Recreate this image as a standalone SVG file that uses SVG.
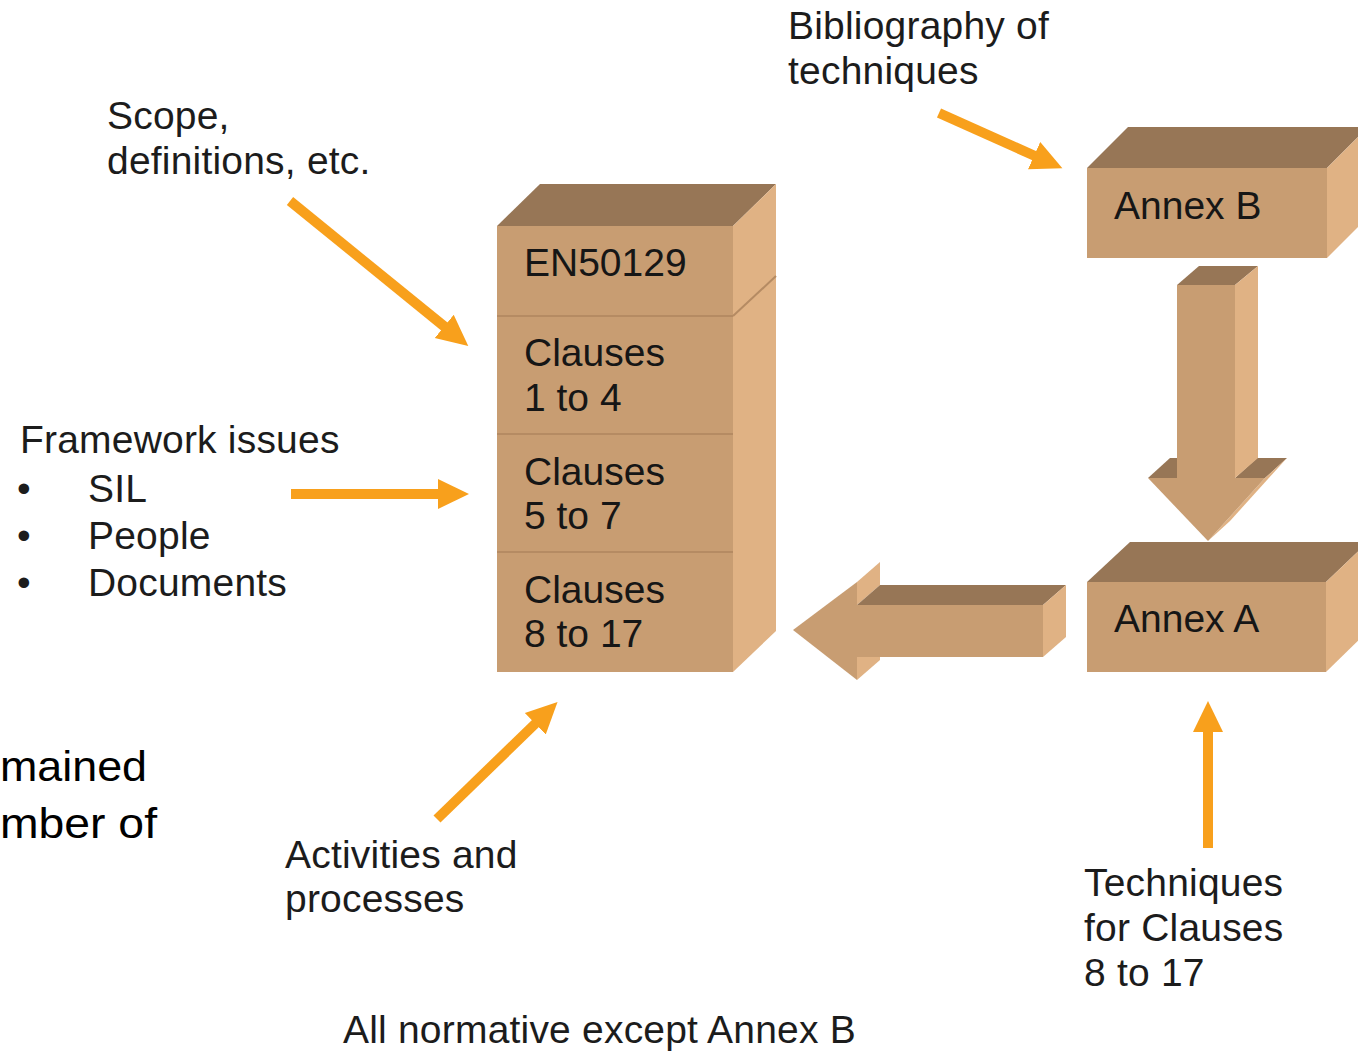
<svg xmlns="http://www.w3.org/2000/svg" width="1358" height="1053" viewBox="0 0 1358 1053">
  <style>
    .front { fill: #C89D72; }
    .top { fill: #977656; }
    .side { fill: #E0B284; }
    .div { stroke: #B58B63; stroke-width: 2; fill: none; }
    .lbl { font-family: "Liberation Sans", Arial, sans-serif; font-size: 39px; letter-spacing: 0.2px; fill: #1c1c1c; }
    .box { font-family: "Liberation Sans", Arial, sans-serif; font-size: 39px; fill: #161616; }
    .side-note { font-family: "Liberation Sans", Arial, sans-serif; font-size: 42px; fill: #000; }
    .ptr { stroke: #F8A01C; stroke-width: 10; fill: none; marker-end: url(#head); }
  </style>
  <defs>
    <marker id="head" markerUnits="userSpaceOnUse" markerWidth="32" markerHeight="32" viewBox="0 0 32 32" refX="1" refY="16" orient="auto">
      <path d="M0,1 L31,16 L0,31 z" fill="#F8A01C"/>
    </marker>
  </defs>
  <rect width="1358" height="1053" fill="#fff"/>

  <!-- EN50129 stack -->
  <g id="stack">
    <polygon class="top" points="497,226 540,184 776,184 733,226"/>
    <polygon class="side" points="733,226 776,184 776,631 733,672"/>
    <rect class="front" x="497" y="226" width="236" height="446"/>
    <line class="div" x1="497" y1="316" x2="733" y2="316"/>
    <line class="div" x1="733" y1="316" x2="776" y2="276"/>
    <line class="div" x1="497" y1="434" x2="733" y2="434"/>
    <line class="div" x1="497" y1="552" x2="733" y2="552"/>
    <text class="box" x="524" y="276">EN50129</text>
    <text class="box" x="524" y="366">Clauses</text>
    <text class="box" x="524" y="411">1 to 4</text>
    <text class="box" x="524" y="485">Clauses</text>
    <text class="box" x="524" y="529">5 to 7</text>
    <text class="box" x="524" y="603">Clauses</text>
    <text class="box" x="524" y="647">8 to 17</text>
  </g>

  <!-- Annex B box -->
  <g id="annex-b">
    <polygon class="top" points="1087,168 1128,127 1368,127 1327,168"/>
    <polygon class="side" points="1327,168 1368,127 1368,217 1327,258"/>
    <rect class="front" x="1087" y="168" width="240" height="90"/>
    <text class="box" x="1114" y="219">Annex B</text>
  </g>

  <!-- Annex A box -->
  <g id="annex-a">
    <polygon class="top" points="1087,582 1130,542 1368,542 1326,582"/>
    <polygon class="side" points="1326,582 1368,542 1368,631 1326,672"/>
    <rect class="front" x="1087" y="582" width="239" height="90"/>
    <text class="box" x="1114" y="632">Annex A</text>
  </g>

  <!-- block arrows and pointers -->
  <g id="connectors">
    <!-- Annex B down to Annex A -->
    <g id="down-block">
      <polygon class="top" points="1148,478 1170,458 1199,458 1177,478"/>
      <polygon class="top" points="1235,478 1257,458 1287,458 1265,478"/>
      <polygon class="side" points="1265,478 1287,458 1230,521 1208,541"/>
      <polygon class="top" points="1177,285 1199,266 1258,266 1235,285"/>
      <polygon class="side" points="1235,285 1258,266 1258,458 1235,478"/>
      <rect class="front" x="1177" y="285" width="58" height="193"/>
      <polygon class="front" points="1148,478 1265,478 1208,541"/>
    </g>
    <!-- Annex A left to stack -->
    <g id="left-block">
      <polygon class="side" points="857,582 880,562 880,585 857,605"/>
      <polygon class="side" points="857,657 880,637 880,660 857,680"/>
      <polygon class="top" points="857,605 880,585 1066,585 1043,605"/>
      <polygon class="side" points="1043,605 1066,585 1066,637 1043,657"/>
      <rect class="front" x="857" y="605" width="186" height="52"/>
      <polygon class="front" points="793,630 857,582 857,680"/>
    </g>
    <line class="ptr" x1="290" y1="201" x2="445" y2="327"/>
    <line class="ptr" x1="291" y1="494" x2="439" y2="494"/>
    <line class="ptr" x1="437" y1="819" x2="536" y2="723"/>
    <line class="ptr" x1="939" y1="113" x2="1035" y2="156"/>
    <line class="ptr" x1="1208" y1="848" x2="1208" y2="731"/>
  </g>

  <!-- labels -->
  <g id="labels">
    <text class="lbl" x="788" y="39">Bibliography of</text>
    <text class="lbl" x="788" y="84">techniques</text>
    <text class="lbl" x="107" y="129">Scope,</text>
    <text class="lbl" x="107" y="174">definitions, etc.</text>
    <text class="lbl" x="20" y="453">Framework issues</text>
    <text class="lbl" x="17" y="502">•</text>
    <text class="lbl" x="88" y="502">SIL</text>
    <text class="lbl" x="17" y="549">•</text>
    <text class="lbl" x="88" y="549">People</text>
    <text class="lbl" x="17" y="596">•</text>
    <text class="lbl" x="88" y="596">Documents</text>
    <text class="lbl" x="285" y="868">Activities and</text>
    <text class="lbl" x="285" y="912">processes</text>
    <text class="lbl" x="1084" y="896">Techniques</text>
    <text class="lbl" x="1084" y="941">for Clauses</text>
    <text class="lbl" x="1084" y="986">8 to 17</text>
    <text class="lbl" x="343" y="1043">All normative except Annex B</text>
    <text class="side-note" x="0" y="781" textLength="147" lengthAdjust="spacingAndGlyphs">mained</text>
    <text class="side-note" x="0" y="838" textLength="157" lengthAdjust="spacingAndGlyphs">mber of</text>
  </g>
</svg>
